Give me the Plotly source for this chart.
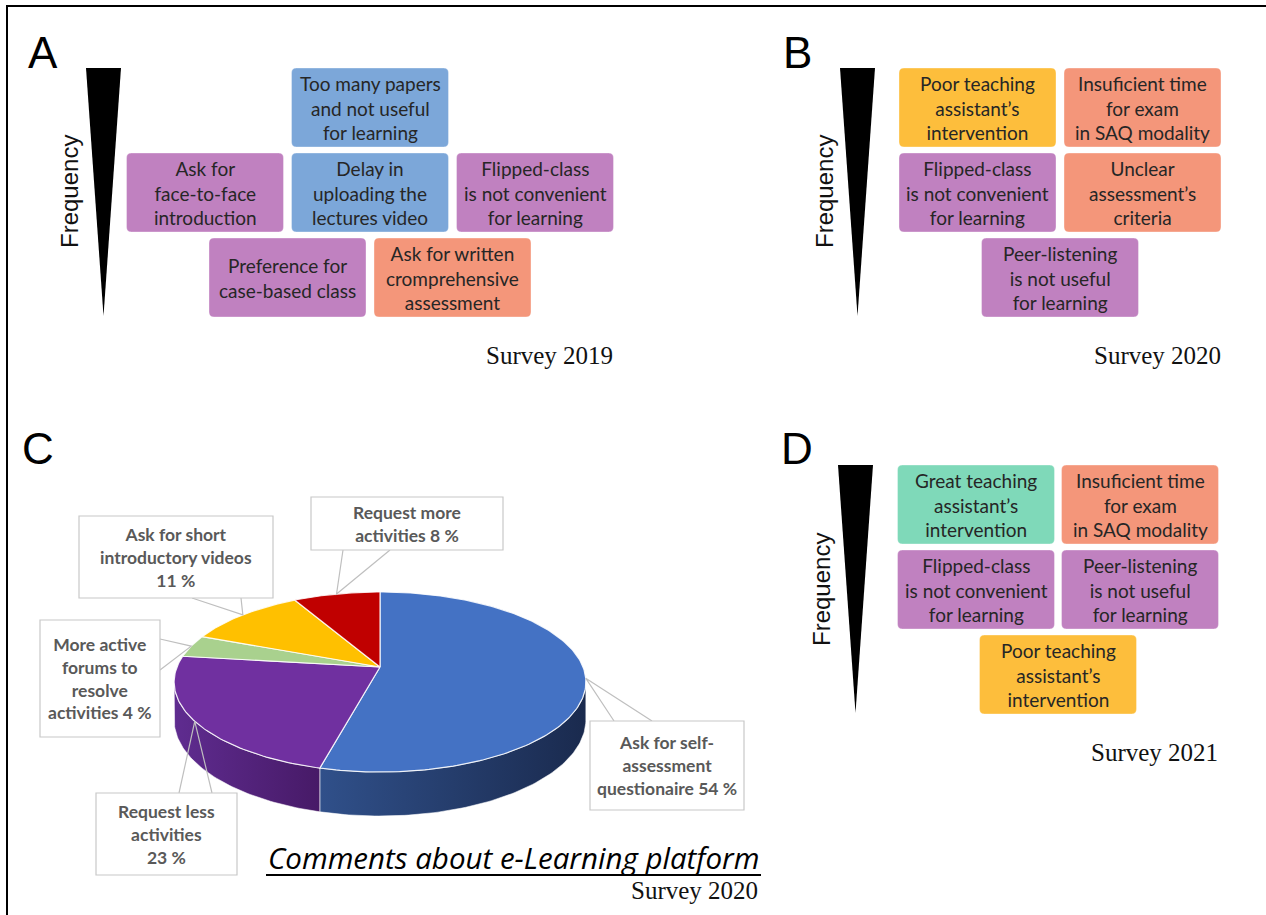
import math
import plotly.graph_objects as go

# ---------------- data ----------------
# Panel A: Survey 2019 comments, rank 1 = most frequent
A_LABELS = [
    "Too many papers<br>and not useful<br>for learning",
    "Ask for<br>face-to-face<br>introduction",
    "Delay in<br>uploading the<br>lectures video",
    "Flipped-class<br>is not convenient<br>for learning",
    "Preference for<br>case-based class",
    "Ask for written<br>cromprehensive<br>assessment",
]
A_RANK = [1, 2, 2, 2, 3, 3]
A_THEME = ["material", "method", "material", "method", "method", "assessment"]

# Panel B: Survey 2020 comments
B_LABELS = [
    "Poor teaching<br>assistant’s<br>intervention",
    "Insuficient time<br>for exam<br>in SAQ modality",
    "Flipped-class<br>is not convenient<br>for learning",
    "Unclear<br>assessment’s<br>criteria",
    "Peer-listening<br>is not useful<br>for learning",
]
B_RANK = [1, 1, 2, 2, 3]
B_THEME = ["assistant_poor", "assessment", "method", "assessment", "method"]

# Panel D: Survey 2021 comments
D_LABELS = [
    "Great teaching<br>assistant’s<br>intervention",
    "Insuficient time<br>for exam<br>in SAQ modality",
    "Flipped-class<br>is not convenient<br>for learning",
    "Peer-listening<br>is not useful<br>for learning",
    "Poor teaching<br>assistant’s<br>intervention",
]
D_RANK = [1, 1, 2, 2, 3]
D_THEME = ["assistant_good", "assessment", "method", "method", "assistant_poor"]

# Panel C: e-Learning platform comments (%), clockwise from 12 o'clock
PIE_LABELS = [
    "Ask for self-<br>assessment<br>questionaire ",
    "Request less<br>activities<br>",
    "More active<br>forums to<br>resolve<br>activities ",
    "Ask for short<br>introductory videos<br>",
    "Request more<br>activities ",
]
PIE_VALUES = [54, 23, 4, 11, 8]

# ---------------- styles ----------------
THEME_COLORS = {
    "material": "#7CA7D9",
    "method": "#C081C0",
    "assessment": "#F4967A",
    "assistant_poor": "#FDBE3C",
    "assistant_good": "#7FD9B9",
}
PIE_TOP = ["#4472C4", "#7030A0", "#A9D18E", "#FFC000", "#C00000"]
PIE_SIDE = [("#30508A", "#1A2A4E"), ("#5F2C90", "#471A67"),
            ("#7E9E6A", "#6A8858"), ("#C09000", "#A07800"), ("#900000", "#700000")]

W, H = 1266, 915
BOX_FONT = dict(family="Lato, 'Open Sans', sans-serif", size=19, color="#262626")
SERIF = dict(family="'Liberation Serif', 'DejaVu Serif', serif", size=25, color="#111111")

fig = go.Figure()
shapes = []
annotations = []


def rounded_rect(x0, y0, x1, y1, r):
    return (f"M{x0 + r},{y0} L{x1 - r},{y0} Q{x1},{y0} {x1},{y0 + r} "
            f"L{x1},{y1 - r} Q{x1},{y1} {x1 - r},{y1} L{x0 + r},{y1} "
            f"Q{x0},{y1} {x0},{y1 - r} L{x0},{y0 + r} Q{x0},{y0} {x0 + r},{y0} Z")


def comment_grid(labels, ranks, themes, cx, top, bw=157, bh=79, gx=8, gy=6):
    """Rows of rounded boxes, one row per frequency rank, centred on cx."""
    for rk in sorted(set(ranks)):
        idx = [i for i, r in enumerate(ranks) if r == rk]
        total = len(idx) * bw + (len(idx) - 1) * gx
        start = cx - total / 2
        y0 = top + (rk - 1) * (bh + gy)
        for k, i in enumerate(idx):
            x0 = start + k * (bw + gx)
            shapes.append(dict(type="path", xref="x", yref="y",
                               path=rounded_rect(x0, y0, x0 + bw, y0 + bh, 5),
                               fillcolor=THEME_COLORS[themes[i]],
                               line=dict(color="rgba(255,255,255,0.35)", width=1),
                               layer="below"))
            annotations.append(dict(x=x0 + bw / 2, y=y0 + bh / 2, text=labels[i],
                                    showarrow=False, xanchor="center", yanchor="middle",
                                    font=BOX_FONT, align="center"))


def frequency_wedge(cx, top, bottom, letter, lx, ly, fx, fy):
    shapes.append(dict(type="path", xref="x", yref="y",
                       path=f"M{cx - 17.5},{top} L{cx + 17.5},{top} L{cx},{bottom} Z",
                       fillcolor="black", line=dict(width=0)))
    annotations.append(dict(x=fx, y=fy, text="Frequency", textangle=-90, showarrow=False,
                            xanchor="center", yanchor="middle",
                            font=dict(family="'Liberation Sans', Arial, sans-serif",
                                      size=24, color="#111111")))
    annotations.append(dict(x=lx, y=ly, text=letter, showarrow=False,
                            xanchor="center", yanchor="middle",
                            font=dict(family="'Liberation Sans', Arial, sans-serif",
                                      size=44, color="black")))


def survey(text, xr, y):
    annotations.append(dict(x=xr, y=y, text=text, showarrow=False,
                            xanchor="right", yanchor="middle", font=SERIF))


# ---------------- panels A, B, D ----------------
frequency_wedge(103.5, 68, 316, "A", 43, 52, 69, 192)
comment_grid(A_LABELS, A_RANK, A_THEME, 370, 68)
survey("Survey 2019", 615, 355)

frequency_wedge(857.5, 68, 316, "B", 797, 52, 824, 192)
comment_grid(B_LABELS, B_RANK, B_THEME, 1060, 68)
survey("Survey 2020", 1223, 355)

frequency_wedge(855.5, 465, 713, "D", 797, 448, 821, 590)
comment_grid(D_LABELS, D_RANK, D_THEME, 1058, 465, gx=7)
survey("Survey 2021", 1220, 752)

# ---------------- panel C: 3-D pie ----------------
HUB_X, HUB_Y = 380, 667
RX, RY, PERSP, DEPTH = 203, 87.5, 1 / 6, 36.7


def rim_point(theta_deg, depth=0.0):
    t = math.radians(theta_deg)
    c, s = math.cos(t), math.sin(t)
    w = 1 + PERSP * c
    return HUB_X + RX * s / w, HUB_Y - RY * c / w + depth / w


def arc(t0, t1, depth=0.0, step=1.0):
    n = max(2, int(abs(t1 - t0) / step) + 1)
    return [rim_point(t0 + (t1 - t0) * k / (n - 1), depth) for k in range(n)]


total = sum(PIE_VALUES)
bounds = [0.0]
for v in PIE_VALUES:
    bounds.append(bounds[-1] + 360.0 * v / total)

t_right = math.degrees(math.acos(-PERSP))
t_left = 360 - t_right

# side walls of the near half
for i in range(len(PIE_VALUES)):
    s0, s1 = max(bounds[i], t_right), min(bounds[i + 1], t_left)
    if s0 >= s1:
        continue
    pts = arc(s0, s1) + arc(s1, s0, DEPTH)
    xs = [p[0] for p in pts] + [pts[0][0]]
    ys = [p[1] for p in pts] + [pts[0][1]]
    fig.add_trace(go.Scatter(x=xs, y=ys, mode="lines", fill="toself",
                             fillgradient=dict(type="horizontal",
                                               colorscale=[[0, PIE_SIDE[i][0]],
                                                           [1, PIE_SIDE[i][1]]]),
                             line=dict(color="rgba(255,255,255,0.55)", width=1),
                             hoverinfo="skip", showlegend=False))

# top faces
for i in range(len(PIE_VALUES)):
    pts = [(HUB_X, HUB_Y)] + arc(bounds[i], bounds[i + 1]) + [(HUB_X, HUB_Y)]
    fig.add_trace(go.Scatter(x=[p[0] for p in pts], y=[p[1] for p in pts],
                             mode="lines", fill="toself", fillcolor=PIE_TOP[i],
                             line=dict(color="rgba(255,255,255,0.85)", width=1.2),
                             hoverinfo="skip", showlegend=False))

# data callouts: box rectangle, side carrying the pointer, pointer base positions
CALLOUT_BOXES = [
    dict(rect=(590, 721, 744, 810), side="top", base=(614, 652)),
    dict(rect=(96, 793, 237, 875), side="top", base=(179, 212)),
    dict(rect=(40, 620, 160, 737), side="right", base=(639, 670)),
    dict(rect=(79, 516, 273, 598), side="bottom", base=(192, 241)),
    dict(rect=(311, 497, 503, 550), side="bottom", base=(343, 390)),
]
CALLOUT_FONT = dict(family="Lato, 'Open Sans', sans-serif", size=17.5, color="#595959")

for i, cb in enumerate(CALLOUT_BOXES):
    x0, y0, x1, y1 = cb["rect"]
    tx, ty = rim_point((bounds[i] + bounds[i + 1]) / 2)
    b0, b1 = cb["base"]
    if cb["side"] == "top":
        p0, p1 = (b0, y0), (b1, y0)
    elif cb["side"] == "bottom":
        p0, p1 = (b0, y1), (b1, y1)
    else:
        p0, p1 = (x1, b0), (x1, b1)
    shapes.append(dict(type="path", xref="x", yref="y",
                       path=f"M{p0[0]},{p0[1]} L{tx},{ty} L{p1[0]},{p1[1]}",
                       line=dict(color="#BFBFBF", width=1.2), layer="above"))
    shapes.append(dict(type="rect", xref="x", yref="y", x0=x0, y0=y0, x1=x1, y1=y1,
                       fillcolor="white", line=dict(color="#C8C8C8", width=1.2),
                       layer="above"))
    annotations.append(dict(x=(x0 + x1) / 2, y=(y0 + y1) / 2,
                            text=f"<b>{PIE_LABELS[i]}{PIE_VALUES[i]} %</b>",
                            showarrow=False, xanchor="center", yanchor="middle",
                            align="center", font=CALLOUT_FONT))

annotations.append(dict(x=38, y=448, text="C", showarrow=False, xanchor="center",
                        yanchor="middle",
                        font=dict(family="'Liberation Sans', Arial, sans-serif",
                                  size=44, color="black")))
annotations.append(dict(x=761, y=857, text="<i>Comments about e-Learning platform</i>",
                        showarrow=False, xanchor="right", yanchor="middle",
                        font=dict(family="'Open Sans', sans-serif", size=29.5,
                                  color="black")))
shapes.append(dict(type="line", xref="x", yref="y", x0=266, x1=761, y0=875, y1=875,
                   line=dict(color="black", width=2)))
survey("Survey 2020", 760, 890)

# outer frame
shapes.append(dict(type="rect", xref="x", yref="y", x0=7, y0=6, x1=1290, y1=940,
                   line=dict(color="black", width=2), fillcolor="rgba(0,0,0,0)"))

fig.update_layout(
    width=W, height=H, margin=dict(l=0, r=0, t=0, b=0),
    paper_bgcolor="white", plot_bgcolor="white",
    xaxis=dict(range=[0, W], visible=False, fixedrange=True),
    yaxis=dict(range=[H, 0], visible=False, fixedrange=True),
    shapes=shapes, annotations=annotations, showlegend=False,
)

fig.write_html("out.html")
